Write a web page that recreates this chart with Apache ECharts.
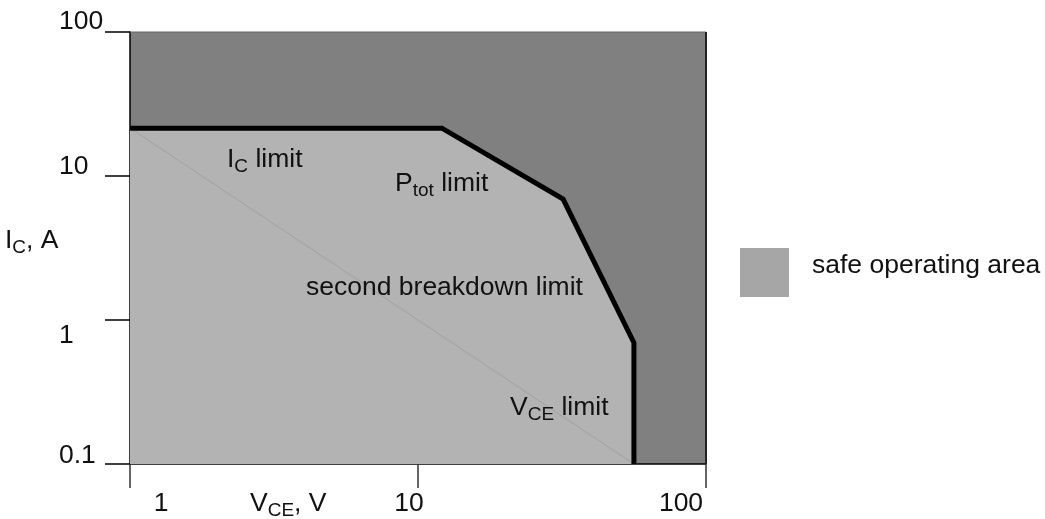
<!DOCTYPE html>
<html><head><meta charset="utf-8">
<script src="https://cdn.jsdelivr.net/npm/echarts@6/dist/echarts.min.js"></script>
<style>html,body{margin:0;padding:0;background:#fff}#c{width:1045px;height:519px}</style>
</head><body><div id="c"></div>
<script>
// ---- data ----
const boundaryVce = [1, 12.1, 31.9, 56.2, 56.2];
const boundaryIc = [21.5, 21.5, 6.92, 0.695, 0.1];
const secondBreakdownVce = [1, 56.2];
const secondBreakdownIc = [21.5, 0.1];
const xTickValues = [1, 10, 100];
const xTickLabels = ['1', '10', '100'];
const yTickValues = [0.1, 1, 10, 100];
const yTickLabels = ['0.1', '1', '10', '100'];
const legendLabel = 'safe operating area';

// ---- style ----
const FONT = "'Liberation Sans', Arial, Helvetica, sans-serif";
const FS = 26.5;
const rich = {
  n: { fontSize: FS, lineHeight: 30, fontFamily: FONT, fill: '#111' },
  s: { fontSize: 19, lineHeight: 20, padding: [14, 0, 0, 0], fontFamily: FONT, fill: '#111' }
};
const xLabelDx = [31, -9, -25];
const yLabelDy = [-8, 16, -9, -10];

const zip = (a, b) => a.map((v, i) => [v, b[i]]);

const chart = echarts.init(document.getElementById('c'), null, { renderer: 'canvas' });

const option = {
  animation: false,
  backgroundColor: '#fff',
  grid: {
    left: 130, right: 339, top: 32, bottom: 55,
    show: true, backgroundColor: '#808080', borderWidth: 0
  },
  xAxis: {
    type: 'log', logBase: 10, min: 1, max: 100, interval: 1,
    axisLine: { show: true, lineStyle: { color: '#000', width: 1.5 } },
    axisTick: { show: true, length: 24, lineStyle: { color: '#333', width: 1.5 } },
    axisLabel: { show: false },
    splitLine: { show: false },
    minorTick: { show: false }
  },
  yAxis: {
    type: 'log', logBase: 10, min: 0.1, max: 100, interval: 1,
    axisLine: { show: true, lineStyle: { color: '#000', width: 1.5 } },
    axisTick: { show: true, length: 25, lineStyle: { color: '#000', width: 1.5 } },
    axisLabel: { show: false },
    splitLine: { show: false }
  },
  series: [
    {
      name: legendLabel, type: 'line', data: zip(boundaryVce, boundaryIc),
      showSymbol: false, symbol: 'none',
      lineStyle: { width: 0, opacity: 0 },
      areaStyle: { color: '#b3b3b3', opacity: 1, origin: 'start' },
      z: 1, silent: true
    },
    {
      name: 'second breakdown', type: 'line', data: zip(secondBreakdownVce, secondBreakdownIc),
      showSymbol: false, symbol: 'none',
      lineStyle: { width: 0.8, color: '#9c9c9c' },
      z: 2, silent: true
    },
    {
      name: 'limit', type: 'line', data: zip(boundaryVce, boundaryIc),
      showSymbol: false, symbol: 'none', clip: false,
      lineStyle: { width: 5, color: '#000', join: 'miter', cap: 'butt' },
      z: 3, silent: true
    }
  ]
};
chart.setOption(option);

const px = (x, y) => chart.convertToPixel({ gridIndex: 0 }, [x, y]);
const graphics = [];
// plot frame: top and right edges
const tl = px(1, 100), br = px(100, 0.1);
graphics.push({ type: 'line', z: 5, shape: { x1: tl[0], y1: tl[1], x2: br[0], y2: tl[1] }, style: { stroke: '#666', lineWidth: 1 } });
graphics.push({ type: 'line', z: 5, shape: { x1: br[0], y1: tl[1], x2: br[0], y2: br[1] }, style: { stroke: '#222', lineWidth: 2 } });

xTickValues.forEach((v, i) => {
  const p = px(v, 1);
  graphics.push({ type: 'text', x: p[0] + xLabelDx[i], y: 504,
    style: { text: xTickLabels[i], fontSize: FS, fontFamily: FONT, fill: '#111', align: 'center', verticalAlign: 'middle' } });
});
yTickValues.forEach((v, i) => {
  const p = px(1, v);
  graphics.push({ type: 'text', x: 59, y: p[1] + yLabelDy[i],
    style: { text: yTickLabels[i], fontSize: FS, fontFamily: FONT, fill: '#111', align: 'left', verticalAlign: 'middle' } });
});
function richText(x, y, text) {
  graphics.push({ type: 'text', x: x, y: y, z: 10,
    style: { text: text, rich: rich, fontSize: FS, fontFamily: FONT, fill: '#111', align: 'left', verticalAlign: 'middle' } });
}
richText(5, 241, '{n|I}{s|C}{n|, A}');
richText(250, 504, '{n|V}{s|CE}{n|, V}');
richText(227, 160, '{n|I}{s|C}{n| limit}');
richText(395, 184, '{n|P}{s|tot}{n| limit}');
richText(306, 288, '{n|second breakdown limit}');
richText(510, 408, '{n|V}{s|CE}{n| limit}');
// legend
graphics.push({ type: 'rect', shape: { x: 740, y: 248, width: 49, height: 49 }, style: { fill: '#a6a6a6' } });
graphics.push({ type: 'text', x: 812, y: 266,
  style: { text: legendLabel, fontSize: FS, fontFamily: FONT, fill: '#111', align: 'left', verticalAlign: 'middle' } });

chart.setOption({ graphic: graphics });
</script>
</body></html>
